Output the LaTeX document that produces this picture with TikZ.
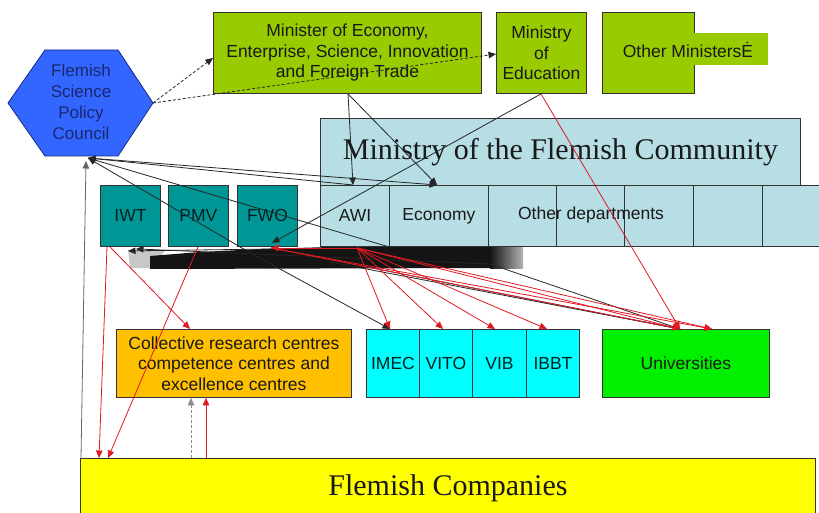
\documentclass[tikz,border=0pt]{standalone}
\usepackage{fontspec}
\setmainfont{Liberation Serif}
\setsansfont{Liberation Sans}
\usetikzlibrary{arrows.meta,calc}
\definecolor{hexblue}{RGB}{51,102,255}
\definecolor{hexedge}{RGB}{20,40,140}
\definecolor{hextext}{RGB}{25,40,110}
\definecolor{mgreen}{RGB}{153,204,0}
\definecolor{lblue}{RGB}{183,222,228}
\definecolor{tealbox}{RGB}{0,150,150}
\definecolor{orng}{RGB}{255,192,0}
\definecolor{cyn}{RGB}{0,255,255}
\definecolor{grn}{RGB}{0,240,0}
\definecolor{yel}{RGB}{255,255,0}
\definecolor{redl}{RGB}{225,25,35}
\newcommand\boxfont{\sffamily\fontsize{17.5}{20.5}\selectfont}
\newcommand\bigserif{\rmfamily\fontsize{30}{34}\selectfont}
\begin{document}
\begin{tikzpicture}[x=1pt,y=-1pt,
  box/.style={draw=black!80, line width=0.9pt, inner sep=0pt, anchor=north west,
    font=\boxfont, text=black!90, align=center},
  lbl/.style={inner sep=0pt, font=\boxfont, text=black!90, align=center},
  blk/.style={draw=black!85, line width=0.8pt},
  redar/.style={draw=redl, line width=0.8pt},
  tip/.style={-{Triangle[width=6.5pt,length=7.5pt]}}]
\useasboundingbox (0,0) rectangle (819,513);
\fill[white] (0,0) rectangle (819,513);

% hexagon
\coordinate (h1) at (8,103);
\coordinate (h2) at (45,50);
\coordinate (h3) at (118,50);
\coordinate (h4) at (153,103);
\coordinate (h5) at (118,156);
\coordinate (h6) at (45,156);
\draw[fill=hexblue, draw=hexedge, line width=0.8pt] (h1)--(h2)--(h3)--(h4)--(h5)--(h6)--cycle;
\node[lbl, text=hextext, font=\sffamily\fontsize{17}{21}\selectfont] (fspc) at (81,102) {Flemish\\Science\\Policy\\Council};

% ministers
\node[box, fill=mgreen, minimum width=268pt, minimum height=81pt] (min) at (213,12)
  {Minister of Economy,\\Enterprise, Science, Innovation\\and Foreign Trade};
\node[box, fill=mgreen, minimum width=90pt, minimum height=81pt] (edu) at (496,12)
  {Ministry\\of\\Education};
\node[box, fill=mgreen, minimum width=92pt, minimum height=81pt] (oth) at (602,12) {};
\fill[mgreen] (693,33) rectangle (768,65);
\node[lbl] (othl) at (688,50) {Other MinistersĖ};

% Ministry of the Flemish Community
\node[box, fill=lblue, minimum width=480pt, minimum height=67pt, font=\bigserif] (mfc) at (320,118)
  {Ministry of the Flemish Community};
\node[box, fill=lblue, minimum width=69pt, minimum height=61pt] (awi) at (320,185) {AWI};
\node[box, fill=lblue, minimum width=99pt, minimum height=61pt] (eco) at (389,185) {Economy};
\node[box, fill=lblue, minimum width=68pt, minimum height=61pt] (c3) at (488,185) {};
\node[box, fill=lblue, minimum width=68pt, minimum height=61pt] (c4) at (556,185) {};
\node[box, fill=lblue, minimum width=69pt, minimum height=61pt] (c5) at (624,185) {};
\node[box, fill=lblue, minimum width=69pt, minimum height=61pt] (c6) at (693,185) {};
\node[box, fill=lblue, minimum width=69pt, minimum height=61pt] (c7) at (762,185) {};
\node[lbl] (othdep) at (591,215) {Other departments};

% agencies
\node[box, fill=tealbox, text=black!75!teal, minimum width=60pt, minimum height=61pt] (iwt) at (100,185) {IWT};
\node[box, fill=tealbox, text=black!75!teal, minimum width=60pt, minimum height=61pt] (pmv) at (168,185) {PMV};
\node[box, fill=tealbox, text=black!75!teal, minimum width=60pt, minimum height=61pt] (fwo) at (237,185) {FWO};

% lower boxes
\node[box, fill=orng, minimum width=235pt, minimum height=68pt] (crc) at (116,329)
  {Collective research centres\\competence centres and\\excellence centres};
\node[box, fill=cyn, text=black!75!teal, minimum width=53pt, minimum height=68pt] (imec) at (366,329) {IMEC};
\node[box, fill=cyn, text=black!75!teal, minimum width=53pt, minimum height=68pt] (vito) at (419,329) {VITO};
\node[box, fill=cyn, text=black!75!teal, minimum width=54pt, minimum height=68pt] (vib) at (472,329) {VIB};
\node[box, fill=cyn, text=black!75!teal, minimum width=53pt, minimum height=68pt] (ibbt) at (526,329) {IBBT};
\node[box, fill=grn, minimum width=167pt, minimum height=68pt] (uni) at (602,329) {Universities};
\node[box, fill=yel, minimum width=735pt, minimum height=60pt, font=\bigserif] (fc) at (80,458) {Flemish Companies};

% connection points
\coordinate (hb) at (88,158);
\coordinate (hexU) at (86,161);
\coordinate (minW) at ($(min.north west)+(0,46)$);
\coordinate (eduW) at ($(edu.north west)+(0,42)$);
\coordinate (minB) at ($(min.south west)+(135,0)$);
\coordinate (eduB) at ($(edu.south west)+(45,0)$);
\coordinate (awiT) at ($(awi.north west)+(33,0)$);
\coordinate (ecoT) at ($(eco.north west)+(48,0)$);
\coordinate (ecoBL) at (eco.south west);
\coordinate (awiB) at ($(awi.south west)+(37,1)$);
\coordinate (fwoB) at ($(fwo.south west)+(35,-4)$);
\coordinate (fwoB2) at ($(fwo.south west)+(34,1)$);
\coordinate (iwtB1) at ($(iwt.south west)+(7,0)$);
\coordinate (iwtB2) at ($(iwt.south west)+(10,0)$);
\coordinate (iwtB3) at ($(iwt.south west)+(28,4)$);
\coordinate (iwtB4) at ($(iwt.south west)+(36,2)$);
\coordinate (pmvB) at ($(pmv.south west)+(30,0)$);
\coordinate (crcT) at ($(crc.north west)+(74,0)$);
\coordinate (crcB1) at ($(crc.south west)+(75,0)$);
\coordinate (crcB2) at ($(crc.south west)+(90,0)$);
\coordinate (fcT0) at ($(fc.north west)+(1,0)$);
\coordinate (fcT1) at ($(fc.north west)+(19,0)$);
\coordinate (fcT2) at ($(fc.north west)+(28,0)$);
\coordinate (fcT3) at ($(fc.north west)+(111,0)$);
\coordinate (fcT4) at ($(fc.north west)+(126,0)$);
\coordinate (imecT) at ($(imec.north west)+(24,0)$);
\coordinate (vitoT) at ($(vito.north west)+(24,0)$);
\coordinate (vibT) at ($(vib.north west)+(23,0)$);
\coordinate (ibbtT) at ($(ibbt.north west)+(21,0)$);
\coordinate (uniT1) at ($(uni.north west)+(78,0)$);
\coordinate (uniT2) at ($(uni.north west)+(110,0)$);
\coordinate (w1) at (247,251);
\coordinate (w2) at (330,262);
\coordinate (w3) at (490,264);

% dense black band of overlapping connectors
\fill[black!22] (128,250) -- (165,251) -- (150,268) -- (130,268) -- cycle;
\fill[black!92] (150,256) -- (200,252) -- (260,249) -- (330,247) -- (490,247) -- (490,268) -- (150,269) -- cycle;
\shade[left color=black!92, right color=black!30] (490,247) rectangle (523,268);

% black connectors
\draw[blk, densely dashed, tip] (h4) -- (minW);
\draw[blk, densely dashed, tip] (h4) -- (eduW);
\draw[blk, tip] (minB) -- (awiT);
\draw[blk, tip] (minB) -- (ecoT);
\draw[blk, tip] (hb) -- (ecoT);
\draw[blk, tip] (eduB) -- (fwoB);
\draw[blk, tip] (awiT) -- (hb);
\draw[blk, tip] (ecoBL) -- (hb);
\draw[blk, tip] (w1) -- (hb);
\draw[blk, draw=black!60, tip] (fcT0) -- (hexU);
\draw[blk, draw=black!45, densely dashed, tip] (fcT3) -- (crcB1);
\draw[blk, tip] (w1) -- (imecT);
\draw[blk] (fwoB2) -- (uniT1);
\draw[blk] (w2) -- (uniT1);
\draw[blk] (w3) -- (uniT1);
\draw[blk, tip] (awiB) -- (iwtB3);
\draw[blk, tip] (w3) -- (iwtB4);

% red connectors
\draw[redar, tip] (iwtB1) -- (fcT1);
\draw[redar, tip] (iwtB2) -- (crcT);
\draw[redar, tip] (pmvB) -- (fcT2);
\draw[redar, tip] (fcT4) -- (crcB2);
\foreach \t in {imecT,vitoT,vibT,ibbtT,uniT1,uniT2}
  \draw[redar, tip] (awiB) -- (\t);
\draw[redar, tip] (awiB) -- (fwoB2);
\draw[redar, tip] (fwoB2) -- (uniT2);
\draw[redar] (fwoB2) -- (uniT1);
\draw[redar, tip] (eduB) -- (uniT1);
\end{tikzpicture}
\end{document}
